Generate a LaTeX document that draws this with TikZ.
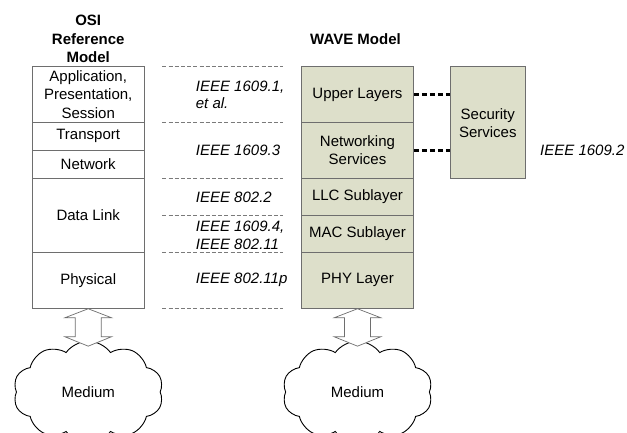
\documentclass[tikz,border=0pt]{standalone}
\usepackage{fontspec}
\setmainfont{Liberation Sans}
\usetikzlibrary{shapes.symbols,calc}
\definecolor{wavefill}{HTML}{DDDFCA}
\definecolor{edgegray}{HTML}{6E6E6E}
\definecolor{dashgray}{HTML}{7A7A7A}
\tikzset{
  layerbox/.style={draw=edgegray, line width=0.9pt, align=center, inner sep=0pt, font=\fontsize{15}{18.5}\selectfont},
  osilayer/.style={layerbox, fill=white, minimum width=111.7pt},
  wavelayer/.style={layerbox, fill=wavefill, minimum width=111.6pt},
  stdlabel/.style={anchor=west, inner sep=0pt, align=left, font=\fontsize{15}{17.6}\selectfont\itshape},
  titletext/.style={align=center, inner sep=0pt, font=\fontsize{15}{18.5}\selectfont\bfseries},
  sepline/.style={draw=dashgray, line width=0.7pt, dash pattern=on 4pt off 2.2pt},
  secline/.style={draw=black, line width=3pt, dash pattern=on 5pt off 3pt},
  hollowarrow/.style={draw=edgegray, line width=0.7pt, fill=white, line join=miter},
  medium/.style={cloud, draw=black, line width=0.9pt, fill=white, cloud puffs=10, cloud puff arc=110, shape border rotate=18, minimum width=150pt, minimum height=102pt, inner sep=0pt, font=\fontsize{15}{18}\selectfont},
}
\begin{document}
\begin{tikzpicture}[x=1pt,y=-1pt]
\useasboundingbox (0,0) rectangle (627,432);
\clip (0,0) rectangle (627,432);

% titles
\node[titletext] (osititle) at (88.2,39) {OSI\\Reference\\Model};
\node[titletext] (wavetitle) at (355.5,39) {WAVE Model};

% OSI stack
\node[osilayer, minimum height=55.6pt] (app) at (88.2,94.5) {Application,\\Presentation,\\Session};
\node[osilayer, minimum height=28pt] (trans) at (88.2,136.3) {Transport};
\node[osilayer, minimum height=28pt] (net) at (88.2,164.3) {Network};
\node[osilayer, minimum height=74pt] (dl) at (88.2,215.3) {Data Link};
\node[osilayer, minimum height=56pt] (phy) at (88.2,280.3) {Physical};

% WAVE stack
\node[wavelayer, minimum height=55.6pt] (upper) at (357.5,94.5) {Upper Layers};
\node[wavelayer, minimum height=56pt] (netsvc) at (357.5,150.3) {Networking\\Services};
\node[wavelayer, minimum height=36.7pt] (llc) at (357.5,196.65) {LLC Sublayer};
\node[wavelayer, minimum height=37.3pt] (mac) at (357.5,233.65) {MAC Sublayer};
\node[wavelayer, minimum height=56pt] (wphy) at (357.5,280.3) {PHY Layer};

% security
\node[layerbox, fill=wavefill, minimum width=74.3pt, minimum height=111.6pt] (sec) at (487.8,122.5) {};
\node[layerbox, draw=none, fill=none] (sectext) at (487.8,123) {Security\\Services};

% connectors to security
\draw[secline] (upper.east) -- (upper.east -| sec.west);
\draw[secline] (netsvc.east) -- (netsvc.east -| sec.west);

% separator lines
\foreach \yy [count=\i] in {66.7,122.3,178.3,215,252.3,308.3}{
  \coordinate (sl\i) at (162.3,\yy);
  \coordinate (sr\i) at (283.3,\yy);
  \draw[sepline] (sl\i) -- (sr\i);
}

% standard labels
\node[stdlabel] (s1) at (195.7,95) {IEEE 1609.1,\\et al.};
\node[stdlabel] (s2) at (195.7,150.3) {IEEE 1609.3};
\node[stdlabel] (s3) at (195.7,197) {IEEE 802.2};
\node[stdlabel] (s4) at (195.7,235.5) {IEEE 1609.4,\\IEEE 802.11};
\node[stdlabel] (s5) at (195.7,280.3) {IEEE 802.11p};
\node[stdlabel] (s6) at (540,150.7) {IEEE 1609.2};

% clouds
\node[medium] (med1) at (88.3,392) {Medium};
\node[medium] (med2) at (357.5,392) {Medium};

% hollow double arrows
\foreach \src in {phy,wphy}{
  \draw[hollowarrow] (\src.south)
    -- ++(23.3,9) -- ++(-10.3,0) -- ++(0,19) -- ++(10.3,0)
    -- ++(-23.3,9.4) -- ++(-23.3,-9.4) -- ++(10.3,0) -- ++(0,-19)
    -- ++(-10.3,0) -- cycle;
}
\end{tikzpicture}
\end{document}
